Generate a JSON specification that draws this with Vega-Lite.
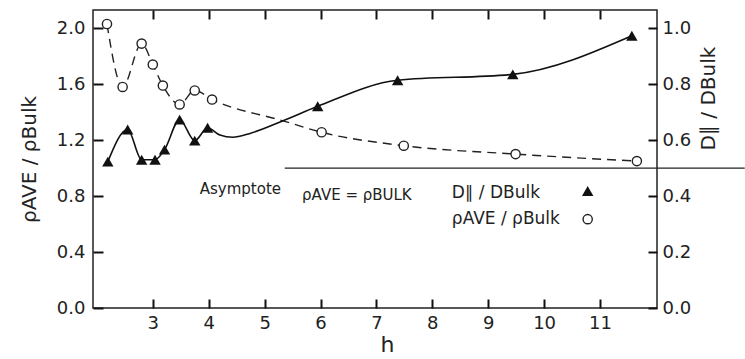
{
  "$schema": "https://vega.github.io/schema/vega-lite/v6.json",
  "width": 564,
  "height": 298,
  "autosize": "none",
  "padding": {"left": 93, "top": 10, "right": 88, "bottom": 51},
  "background": "white",
  "config": {
    "view": {"stroke": "#222", "strokeWidth": 1.5},
    "font": "DejaVu Sans",
    "axis": {
      "grid": false,
      "domain": false,
      "ticks": true,
      "zindex": 1,
      "tickColor": "#111",
      "tickWidth": 2,
      "tickOpacity": 1,
      "labelColor": "#222",
      "labelFont": "DejaVu Sans",
      "labelFontSize": 18,
      "titleColor": "#222",
      "titleFont": "DejaVu Sans",
      "titleFontWeight": "normal"
    }
  },
  "datasets": {
    "rhoPts": [
      {"h": 2.18, "v": 2.03}, {"h": 2.46, "v": 1.58}, {"h": 2.80, "v": 1.89},
      {"h": 3.00, "v": 1.74}, {"h": 3.18, "v": 1.59}, {"h": 3.48, "v": 1.455},
      {"h": 3.75, "v": 1.555}, {"h": 4.06, "v": 1.49}, {"h": 6.02, "v": 1.256},
      {"h": 7.49, "v": 1.16}, {"h": 9.49, "v": 1.10}, {"h": 11.66, "v": 1.05}
    ],
    "rhoCurve": [
      {"h": 2.18, "v": 2.03}, {"h": 2.46, "v": 1.58}, {"h": 2.80, "v": 1.89},
      {"h": 3.00, "v": 1.74}, {"h": 3.18, "v": 1.59}, {"h": 3.48, "v": 1.455},
      {"h": 3.75, "v": 1.555}, {"h": 4.06, "v": 1.49}, {"h": 5.33, "v": 1.338},
      {"h": 6.02, "v": 1.256}, {"h": 7.49, "v": 1.16}, {"h": 9.49, "v": 1.10},
      {"h": 11.66, "v": 1.05}
    ],
    "dPts": [
      {"h": 2.195, "d": 0.523}, {"h": 2.55, "d": 0.638}, {"h": 2.80, "d": 0.53},
      {"h": 3.04, "d": 0.53}, {"h": 3.21, "d": 0.566}, {"h": 3.48, "d": 0.673},
      {"h": 3.75, "d": 0.598}, {"h": 3.98, "d": 0.644}, {"h": 5.95, "d": 0.721},
      {"h": 7.38, "d": 0.814}, {"h": 9.44, "d": 0.835}, {"h": 11.57, "d": 0.973}
    ],
    "dCurve": [
      {"h": 2.195, "d": 0.523}, {"h": 2.55, "d": 0.638}, {"h": 2.80, "d": 0.53},
      {"h": 3.04, "d": 0.53}, {"h": 3.21, "d": 0.566}, {"h": 3.48, "d": 0.673},
      {"h": 3.75, "d": 0.598}, {"h": 3.98, "d": 0.644}, {"h": 4.2, "d": 0.618},
      {"h": 4.43, "d": 0.61}, {"h": 4.74, "d": 0.624}, {"h": 5.33, "d": 0.669},
      {"h": 5.95, "d": 0.721}, {"h": 7.38, "d": 0.814}, {"h": 9.44, "d": 0.835},
      {"h": 11.57, "d": 0.973}
    ],
    "asymptote": [{"h": 5.36, "h2": 13.59, "v": 1.0}],
    "notes": [
      {"h": 3.84, "v": 0.85, "label": "Asymptote"},
      {"h": 5.67, "v": 0.81, "label": "ρAVE = ρBULK"}
    ],
    "legendText": [
      {"h": 8.35, "v": 0.82, "label": "D∥ / DBulk"},
      {"h": 8.35, "v": 0.636, "label": "ρAVE / ρBulk"}
    ],
    "legendTri": [{"h": 10.78, "v": 0.836}],
    "legendCirc": [{"h": 10.78, "v": 0.635}]
  },
  "layer": [
    {
      "encoding": {
        "x": {
          "field": "h", "type": "quantitative",
          "scale": {"domain": [1.93, 12.02], "nice": false, "zero": false},
          "axis": {
            "orient": "bottom", "values": [3, 4, 5, 6, 7, 8, 9, 10, 11], "format": "d",
            "offset": -9, "tickSize": 9, "labelPadding": 6, "title": "h", "titleFontSize": 22,
            "titlePadding": 2, "titleX": 294
          }
        },
        "y": {
          "field": "v", "type": "quantitative",
          "scale": {"domain": [0, 2.13], "nice": false, "zero": true},
          "axis": {
            "orient": "left", "values": [0, 0.4, 0.8, 1.2, 1.6, 2.0], "format": ".1f",
            "offset": -10, "tickSize": 10, "labelPadding": 8, "title": "ρAVE / ρBulk",
            "titleFontSize": 20, "titlePadding": 17
          }
        }
      },
      "layer": [
        {
          "data": {"name": "rhoCurve"},
          "mark": {"type": "line", "interpolate": "monotone", "color": "#222", "strokeWidth": 1.4, "strokeDash": [9, 6]}
        },
        {
          "data": {"name": "asymptote"},
          "mark": {"type": "rule", "color": "#222", "strokeWidth": 1.4},
          "encoding": {"x2": {"field": "h2"}}
        },
        {
          "data": {"name": "rhoPts"},
          "mark": {"type": "point", "shape": "circle", "filled": true, "fill": "white", "stroke": "#222", "strokeWidth": 1.4, "size": 85, "opacity": 1}
        },
        {
          "data": {"name": "notes"},
          "mark": {"type": "text", "align": "left", "baseline": "middle", "fontSize": 15, "color": "#222"},
          "encoding": {"text": {"field": "label"}}
        },
        {
          "data": {"name": "legendText"},
          "mark": {"type": "text", "align": "left", "baseline": "middle", "fontSize": 17, "color": "#222"},
          "encoding": {"text": {"field": "label"}}
        },
        {
          "data": {"name": "legendTri"},
          "mark": {"type": "point", "shape": "triangle-up", "filled": true, "color": "#111", "size": 130, "opacity": 1}
        },
        {
          "data": {"name": "legendCirc"},
          "mark": {"type": "point", "shape": "circle", "filled": true, "fill": "white", "stroke": "#222", "strokeWidth": 1.4, "size": 85, "opacity": 1}
        }
      ]
    },
    {
      "encoding": {
        "x": {
          "field": "h", "type": "quantitative",
          "scale": {"domain": [1.93, 12.02], "nice": false, "zero": false},
          "axis": {
            "orient": "top", "values": [3, 4, 5, 6, 7, 8, 9, 10, 11], "labels": false,
            "offset": -9, "tickSize": 9, "title": null
          }
        },
        "y": {
          "field": "d", "type": "quantitative",
          "scale": {"domain": [0, 1.065], "nice": false, "zero": true},
          "axis": {
            "orient": "right", "values": [0, 0.2, 0.4, 0.6, 0.8, 1.0], "format": ".1f",
            "offset": -9, "tickSize": 9, "labelPadding": 5, "title": "D∥ / DBulk",
            "titleFontSize": 20, "titlePadding": 28, "titleAngle": 270, "titleY": 88
          }
        }
      },
      "layer": [
        {
          "data": {"name": "dCurve"},
          "mark": {"type": "line", "interpolate": "monotone", "color": "#111", "strokeWidth": 1.6}
        },
        {
          "data": {"name": "dPts"},
          "mark": {"type": "point", "shape": "triangle-up", "filled": true, "color": "#111", "size": 130, "opacity": 1}
        }
      ]
    }
  ],
  "resolve": {"scale": {"y": "independent"}, "axis": {"x": "independent"}}
}
